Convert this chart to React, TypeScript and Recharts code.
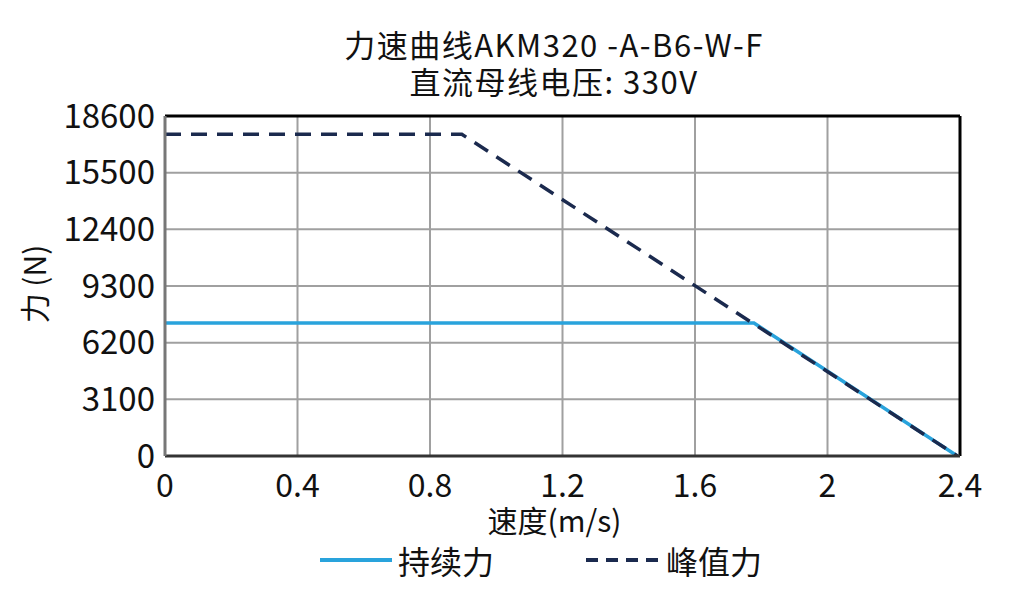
import { LineChart, Line, XAxis, YAxis, CartesianGrid, ReferenceLine } from "recharts";

const continuousSpeed = [0, 1.778, 2.392];
const continuousForce = [7270, 7270, 0];
const peakSpeed = [0, 0.896, 2.392];
const peakForce = [17600, 17600, 0];
const xTicks = [0, 0.4, 0.8, 1.2, 1.6, 2, 2.4];
const yTicks = [0, 3100, 6200, 9300, 12400, 15500, 18600];
const seriesNames = ["持续力", "峰值力"];

const continuousData = continuousSpeed.map((v, i) => ({ v, f: continuousForce[i] }));
const peakData = peakSpeed.map((v, i) => ({ v, f: peakForce[i] }));

const FONT = '"Noto Sans CJK SC", "Noto Sans", sans-serif';
const BLUE = "#29a3dc";
const NAVY = "#1b2a4e";

export default function App() {
  return (
    <div style={{ position: "absolute", left: 0, top: 0, width: 1017, height: 601, background: "#fff", fontFamily: FONT, color: "#111" }}>
      <div style={{ position: "absolute", left: 0, width: 1108, top: 25, textAlign: "center", fontSize: 31, lineHeight: "37px", letterSpacing: 1.5 }}>
        力速曲线AKM320 -A-B6-W-F
        <br />
        直流母线电压: 330V
      </div>
      <div
        style={{
          position: "absolute",
          left: 33,
          top: 284,
          transform: "translate(-50%, -50%) rotate(-90deg)",
          fontSize: 30,
          lineHeight: "36px",
          whiteSpace: "nowrap",
        }}
      >
        力 (N)
      </div>
      <LineChart width={1017} height={601} margin={{ top: 116, left: 65, right: 57, bottom: 85 }}>
        <CartesianGrid stroke="#a0a0a0" strokeWidth={2} />
        <XAxis
          type="number"
          dataKey="v"
          domain={[0, 2.4]}
          ticks={xTicks}
          allowDataOverflow
          axisLine={{ stroke: "#333", strokeWidth: 3 }}
          tickLine={false}
          tick={{ fill: "#111", fontSize: 32, fontFamily: FONT }}
          tickMargin={12}
          height={60}
          label={{ value: "速度(m/s)", position: "insideBottom", offset: -16, fill: "#111", fontSize: 30, fontFamily: FONT, dx: -8 }}
        />
        <YAxis
          type="number"
          domain={[0, 18600]}
          ticks={yTicks}
          allowDataOverflow
          width={100}
          axisLine={{ stroke: "#777", strokeWidth: 3 }}
          tickLine={false}
          tick={{ fill: "#111", fontSize: 33, fontFamily: FONT }}
          tickMargin={4}
        />
        <ReferenceLine y={18600} stroke="#000" strokeWidth={3} />
        <ReferenceLine x={2.4} stroke="#000" strokeWidth={3} />
        <Line
          data={continuousData}
          dataKey="f"
          name={seriesNames[0]}
          type="linear"
          stroke={BLUE}
          strokeWidth={3.5}
          dot={false}
          isAnimationActive={false}
        />
        <Line
          data={peakData}
          dataKey="f"
          name={seriesNames[1]}
          type="linear"
          stroke={NAVY}
          strokeWidth={3.5}
          strokeDasharray="16 10"
          dot={false}
          isAnimationActive={false}
        />
      </LineChart>
      <div style={{ position: "absolute", left: 320, top: 540, display: "flex", alignItems: "center", fontSize: 32, lineHeight: "40px" }}>
        <svg width={72} height={10} style={{ marginRight: 6 }}>
          <line x1={0} y1={5} x2={72} y2={5} stroke={BLUE} strokeWidth={4} />
        </svg>
        <span style={{ marginRight: 92 }}>{seriesNames[0]}</span>
        <svg width={72} height={10} style={{ marginRight: 8 }}>
          <line x1={0} y1={5} x2={72} y2={5} stroke={NAVY} strokeWidth={4} strokeDasharray="12 8" />
        </svg>
        <span>{seriesNames[1]}</span>
      </div>
    </div>
  );
}
